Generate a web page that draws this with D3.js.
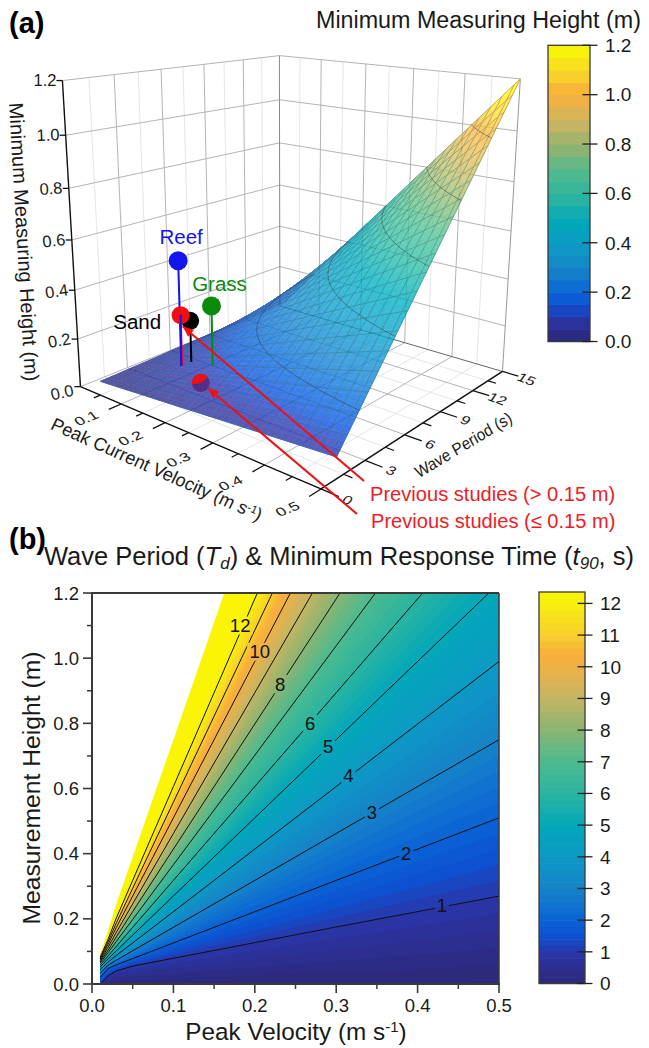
<!DOCTYPE html>
<html><head><meta charset="utf-8">
<script src="https://cdn.jsdelivr.net/npm/d3@7/dist/d3.min.js"></script>
<style>html,body{margin:0;background:#fff}svg{display:block}text{font-family:"Liberation Sans",Arial,sans-serif}</style>
</head><body><svg id="c" width="649" height="1048"></svg>
<script>
// ---- data, panel (a): minimum measuring height (m) by velocity (rows) and period (columns)
const velocities=[0.01,0.05,0.10,0.15,0.20,0.25,0.30,0.35,0.40,0.45,0.50];
const periods=[1,2,3,4,5,6,7,8,9,10,11,12,13,14,15];
const heightsU01=[.002,.003,.005,.006,.008,.010,.011,.013,.014,.016,.018,.019,.021,.022,.024];
const heightsU05=[.008,.016,.024,.032,.040,.048,.056,.064,.072,.080,.088,.096,.104,.112,.120];
const heightsU10=[.016,.032,.048,.064,.080,.096,.112,.128,.144,.160,.176,.192,.208,.224,.240];
const heightsU15=[.024,.048,.072,.096,.120,.144,.168,.192,.216,.240,.264,.288,.312,.336,.360];
const heightsU20=[.032,.064,.096,.128,.160,.192,.224,.256,.288,.320,.352,.384,.416,.448,.480];
const heightsU25=[.040,.080,.120,.160,.200,.240,.280,.320,.360,.400,.440,.480,.520,.560,.600];
const heightsU30=[.048,.096,.144,.192,.240,.288,.336,.384,.432,.480,.528,.576,.624,.672,.720];
const heightsU35=[.056,.112,.168,.224,.280,.336,.392,.448,.504,.560,.616,.672,.728,.784,.840];
const heightsU40=[.064,.128,.192,.256,.320,.384,.448,.512,.576,.640,.704,.768,.832,.896,.960];
const heightsU45=[.072,.144,.216,.288,.360,.432,.504,.576,.648,.720,.792,.864,.936,1.008,1.080];
const heightsU50=[.080,.160,.240,.320,.400,.480,.560,.640,.720,.800,.880,.960,1.040,1.120,1.200];
const surfaceRows=[heightsU01,heightsU05,heightsU10,heightsU15,heightsU20,heightsU25,heightsU30,heightsU35,heightsU40,heightsU45,heightsU50];
const meshVelocities=[.01,.03,.05,.07,.09,.11,.13,.15,.17,.19,.21,.23,.25,.27,.29,.31,.33,.35,.37,.39,.41,.43,.45,.47,.49,.5];
const meshPeriods=[1,1.7,2.4,3.1,3.8,4.5,5.2,5.9,6.6,7.3,8,8.7,9.4,10.1,10.8,11.5,12.2,12.9,13.6,14.3,15];
const surfaceContourLevels=[0.2,0.4,0.6,0.8,1.0];
const velocityTicks=[0.1,0.2,0.3,0.4,0.5], velocityMinor=[0.05,0.15,0.25,0.35,0.45];
const periodTicks=[0,3,6,9,12,15], periodMinor=[1.5,4.5,7.5,10.5,13.5];
const heightTicks=[0,0.2,0.4,0.6,0.8,1.0,1.2];
const colorbarATicks=[0,0.2,0.4,0.6,0.8,1.0,1.2];
// field sites and earlier studies: velocity, period, height
const markerNames=["Sand","Previous studies (> 0.15 m)","Grass","Reef"];
const markerVelocity=[.120,.112,.176,.110];
const markerPeriod=[4.05,3.65,3.85,3.65];
const markerHeight=[.252,.280,.350,.502];
const markerColors=["#000000","#f00f14","#0a8a0a","#1414f0"];
const lowStudyVelocity=.192, lowStudyPeriod=2.55, lowStudyHeight=.08;
// ---- data, panel (b): height (m) of each contour at the velocity stations
const stationVelocities=[0.01,0.02,0.03,0.05,0.10,0.20,0.30,0.40,0.50];
const contourT0 =[0,0,0,0,0,0,0,0,0.005];
const contourT1 =[0,.025,.040,.055,.079,.127,.175,.222,.270];
const contourT2 =[.020,.048,.059,.078,.126,.222,.318,.414,.510];
const contourT3 =[.033,.058,.073,.102,.174,.318,.462,.606,.750];
const contourT4 =[.044,.068,.088,.126,.222,.414,.606,.798,.990];
const contourT5 =[.052,.078,.102,.150,.270,.510,.750,.990,1.230];
const contourT6 =[.058,.087,.116,.174,.318,.606,.894,1.182,1.470];
const contourT7 =[.064,.097,.131,.198,.366,.702,1.038,1.374,1.710];
const contourT8 =[.068,.105,.145,.222,.414,.798,1.182,1.566,1.950];
const contourT9 =[.072,.114,.159,.246,.462,.894,1.326,1.758,2.190];
const contourT10=[.076,.123,.174,.270,.510,.990,1.470,1.950,2.430];
const contourT11=[.079,.131,.188,.294,.558,1.086,1.614,2.142,2.670];
const contourT12=[.082,.139,.203,.318,.606,1.182,1.758,2.334,2.910];
const contourT13=[.085,.147,.217,.342,.654,1.278,1.902,2.526,3.150];
const contourT14=[.088,.156,.232,.366,.702,1.374,2.046,2.718,3.390];
const contourT15=[.090,.164,.246,.390,.750,1.470,2.190,2.910,3.630];
const contourRows=[contourT0,contourT1,contourT2,contourT3,contourT4,contourT5,contourT6,contourT7,contourT8,contourT9,contourT10,contourT11,contourT12,contourT13,contourT14,contourT15];
const drawnContours=[1,2,3,4,5,6,7,8,9,10,11,12];
const labelLevels=[12,10,8,6,5,4,3,2,1];
const labelVelocity=[.182,.206,.231,.268,.290,.315,.344,.386,.430];
const labelHeight=[1.10,1.02,.92,.80,.73,.64,.525,.40,.24];
const xTicksB=[0,.1,.2,.3,.4,.5], xMinorB=[.05,.15,.25,.35,.45];
const yTicksB=[0,.2,.4,.6,.8,1.0,1.2], yMinorB=[.1,.3,.5,.7,.9,1.1];
const colorbarBTicks=[0,1,2,3,4,5,6,7,8,9,10,11,12];
// shared colour ramp
const rampStops=[0,.08,.12,.16,.24,.325,.405,.49,.57,.65,.73,.81,.84,.89,.975,1];
const rampColors=["#2d2877","#2b35a8","#0e50d0","#0a62d6","#1682c9","#0d9ac4","#03a7b9","#2db5a0","#4fb98f","#8cb472","#c4b563","#efb146","#f8ae3b","#f8ce2e","#f7f20c","#faf506"];

const svg=d3.select("#c");
const ramp=d3.scaleLinear().domain(rampStops).range(rampColors).clamp(true);
const ink="#1a1a1a", axisGray="#3a3a3a";

// ---- projective camera of the 3D box, fitted to the box corners
const ux=d3.scaleLinear([0,.5],[0,1]), uy=d3.scaleLinear([0,15],[0,1]), uz=d3.scaleLinear([0,1.2],[0,1]);
const boxCorners=[[0,0,0,80,387],[1,0,0,322,488],[1,1,0,502,373],[0,1,0,280,305],[0,0,1,62,81],[0,1,1,280,56],[1,1,1,520,78]];
function solveCam(){
  const A=[],B=[];
  boxCorners.forEach(([x,y,z,X,Y])=>{
    A.push([x,y,z,1,0,0,0,0,-X*x,-X*y,-X*z]);B.push(X);
    A.push([0,0,0,0,x,y,z,1,-Y*x,-Y*y,-Y*z]);B.push(Y);
  });
  const n=11,M=[];
  for(let i=0;i<n;i++){M[i]=[];for(let j=0;j<n;j++)M[i][j]=d3.sum(A,r=>r[i]*r[j]);M[i][n]=d3.sum(A,(r,k)=>r[i]*B[k]);}
  for(let c=0;c<n;c++){let p=c;for(let r=c+1;r<n;r++)if(Math.abs(M[r][c])>Math.abs(M[p][c]))p=r;[M[c],M[p]]=[M[p],M[c]];
    for(let r=0;r<n;r++)if(r!==c){const f=M[r][c]/M[c][c];for(let k=c;k<=n;k++)M[r][k]-=f*M[c][k];}}
  return M.map((r,i)=>r[n]/r[i]);
}
const cam=solveCam();
function project(u,T,z){const x=ux(u),y=uy(T),w=uz(z);
  const d=cam[8]*x+cam[9]*y+cam[10]*w+1;
  return [(cam[0]*x+cam[1]*y+cam[2]*w+cam[3])/d,(cam[4]*x+cam[5]*y+cam[6]*w+cam[7])/d];}
const seg=(g,a,b,c,w)=>g.append("line").attr("x1",a[0]).attr("y1",a[1]).attr("x2",b[0]).attr("y2",b[1]).attr("stroke",c).attr("stroke-width",w);

// ---- walls and floor
const box=svg.append("g");
const gMaj="#b4b4b4",gMin="#e6e6e6";
velocityMinor.forEach(u=>{seg(box,project(u,0,0),project(u,15,0),gMin,1);seg(box,project(u,15,0),project(u,15,1.2),gMin,1);});
periodMinor.forEach(T=>{seg(box,project(0,T,0),project(.5,T,0),gMin,1);seg(box,project(0,T,0),project(0,T,1.2),gMin,1);});
velocityTicks.slice(0,4).forEach(u=>{seg(box,project(u,0,0),project(u,15,0),gMaj,1);seg(box,project(u,15,0),project(u,15,1.2),gMaj,1);});
periodTicks.slice(1,5).forEach(T=>{seg(box,project(0,T,0),project(.5,T,0),gMaj,1);seg(box,project(0,T,0),project(0,T,1.2),gMaj,1);});
heightTicks.slice(1).forEach(z=>{seg(box,project(0,0,z),project(0,15,z),gMaj,1);seg(box,project(0,15,z),project(.5,15,z),gMaj,1);});
seg(box,project(0,0,0),project(0,15,0),gMaj,1);seg(box,project(0,15,0),project(.5,15,0),"#666",1);
seg(box,project(0,15,0),project(0,15,1.2),"#888",1);seg(box,project(.5,15,0),project(.5,15,1.2),"#999",1);

// axes of the box
const axes=svg.append("g");
seg(axes,project(0,0,0),project(0,0,1.2),"#111",1.4);
seg(axes,project(0,0,0),project(.5,0,0),"#111",1.5);
seg(axes,project(.5,0,0),project(.5,15,0),"#111",1.5);
velocityTicks.forEach(u=>seg(axes,project(u,0,0),project(u,-.75,0),"#111",1.3));
velocityMinor.forEach(u=>seg(axes,project(u,0,0),project(u,-.4,0),"#111",1.2));
periodTicks.forEach(T=>seg(axes,project(.5,T,0),project(.53,T,0),"#111",1.3));
periodMinor.forEach(T=>seg(axes,project(.5,T,0),project(.515,T,0),"#111",1.2));
heightTicks.forEach(z=>{const p=project(0,0,z);seg(axes,p,[p[0]-6,p[1]],"#111",1.3);
  axes.append("text").attr("text-anchor","end").attr("font-size",16.5).attr("fill",ink)
   .attr("transform",`translate(${p[0]-6},${p[1]+(z===0?9:5)}) rotate(${-12+z*10}) `).text(z.toFixed(1));});
velocityTicks.forEach(u=>{const p=project(u,-1.9,0);
  axes.append("text").attr("text-anchor","middle").attr("font-size",15).attr("fill",ink)
   .attr("transform",`matrix(1.05,-.42,.55,.7,${p[0]},${p[1]+4})`).text(u.toFixed(1));});
periodTicks.forEach(T=>{const p=project(.535,T,0);
  axes.append("text").attr("text-anchor","middle").attr("font-size",15).attr("fill",ink)
   .attr("transform",`matrix(1.0,.38,-.5,.72,${p[0]+3},${p[1]+6})`).text(T);});
axes.append("text").attr("text-anchor","middle").attr("font-size",20).attr("fill",ink)
   .attr("transform","rotate(86.7 23 242) translate(23 248)").text("Minimum Measuring Height (m)");
axes.append("text").attr("text-anchor","middle").attr("font-size",18).attr("fill",ink)
   .attr("transform","matrix(.914,.405,-.45,.92,154,475)").html('Peak Current Velocity (m s<tspan dy="-5" font-size="11">-1</tspan><tspan dy="5">)</tspan>');
axes.append("text").attr("text-anchor","middle").attr("font-size",15.5).attr("fill",ink)
   .attr("transform","matrix(.857,-.515,.5,.95,466,450)").text("Wave Period (s)");

// low study sits partly beneath the sheet
const lowP=project(lowStudyVelocity,lowStudyPeriod,lowStudyHeight);
svg.append("circle").attr("cx",lowP[0]).attr("cy",lowP[1]).attr("r",9).attr("fill","#f00f14");

// ---- surface
const bil=(u,T)=>{const iu=Math.min(d3.bisectRight(velocities,u)-1,velocities.length-2),it=Math.min(d3.bisectRight(periods,T)-1,periods.length-2);
  const a=(u-velocities[iu])/(velocities[iu+1]-velocities[iu]),b=(T-periods[it])/(periods[it+1]-periods[it]);
  const r=surfaceRows;
  return (1-a)*(1-b)*r[iu][it]+a*(1-b)*r[iu+1][it]+(1-a)*b*r[iu][it+1]+a*b*r[iu+1][it+1];};
const surf=svg.append("g").attr("opacity",.8);
const lineP=d3.line();
const N=4;
for(let i=0;i<velocities.length-1;i++)for(let j=0;j<periods.length-1;j++){
  for(let a=0;a<N;a++)for(let b=0;b<N;b++){
    const u0=velocities[i]+(velocities[i+1]-velocities[i])*a/N,u1=velocities[i]+(velocities[i+1]-velocities[i])*(a+1)/N;
    const T0=periods[j]+(periods[j+1]-periods[j])*b/N,T1=periods[j]+(periods[j+1]-periods[j])*(b+1)/N;
    const c=d3.rgb(ramp((bil((u0+u1)/2,(T0+T1)/2))/1.2)).brighter(.18).formatHex();
    surf.append("path").attr("d",lineP([[u0,T0],[u1,T0],[u1,T1],[u0,T1]].map(([u,T])=>project(u,T,bil(u,T))))+"Z")
      .attr("fill",c).attr("stroke",c).attr("stroke-width",.6);
  }
}
const meshColor=z=>d3.rgb(ramp(z/1.2*.78+.09)).darker(.6).formatHex();
const meshG=surf.append("g");
const fineT=d3.range(1,15.01,.5),fineU=d3.range(.01,.5001,.01);
meshVelocities.forEach(u=>d3.pairs(fineT).forEach(([a,b])=>seg(meshG,project(u,a,bil(u,a)),project(u,b,bil(u,b)),meshColor(bil(u,a)),1)));
meshPeriods.forEach(T=>d3.pairs(fineU).forEach(([a,b])=>seg(meshG,project(a,T,bil(a,T)),project(b,T,bil(b,T)),meshColor(bil(a,T)),1)));
surfaceContourLevels.forEach(l=>{
  const pts=[];
  d3.range(1,15.001,.1).forEach(T=>{
    const col=velocities.map(u=>bil(u,T));
    if(l>=col[0]&&l<=col[col.length-1]){const u=d3.scaleLinear().domain(col).range(velocities)(l);pts.push(project(u,T,l));}
  });
  svg.append("path").attr("d",lineP(pts)).attr("fill","none").attr("stroke","#333").attr("stroke-opacity",.6).attr("stroke-width",.8);
});
// upper part of the low study pokes through the sheet
svg.append("path").attr("transform",`translate(${lowP[0]},${lowP[1]})`)
  .attr("d",d3.arc()({innerRadius:0,outerRadius:9,startAngle:-101*Math.PI/180,endAngle:51*Math.PI/180})).attr("fill","#f00f14");

// ---- site markers with stems
const tops=markerNames.map((n,i)=>project(markerVelocity[i],markerPeriod[i],markerHeight[i]));
const bases=markerNames.map((n,i)=>project(markerVelocity[i],markerPeriod[i],bil(markerVelocity[i],markerPeriod[i])));
[0,2,3,1].forEach(i=>{
  seg(svg,tops[i],bases[i],markerColors[i],2);
  svg.append("circle").attr("cx",tops[i][0]).attr("cy",tops[i][1]).attr("r",i===2||i===3?9.5:9).attr("fill",markerColors[i]);
});
seg(svg,[tops[3][0]+2.5,tops[3][1]+54],bases[3],markerColors[3],1.8);
const siteLabel=(t,x,y,c,fs)=>svg.append("text").attr("x",x).attr("y",y).attr("fill",c).attr("font-size",fs).attr("text-anchor","middle").text(t);
siteLabel(markerNames[3],tops[3][0]+3,tops[3][1]-17,"#1414f0",20.5);
siteLabel(markerNames[2],tops[2][0]+8,tops[2][1]-15,"#0a8a0a",20.5);
siteLabel(markerNames[0],tops[0][0]-53,tops[0][1]+8,"#000",20.5);
// ---- arrows to the earlier studies
function arrow(tail,tip){
  seg(svg,tail,tip,"#f00f14",2);
  const a=Math.atan2(tail[1]-tip[1],tail[0]-tip[0]),L=11,W=4.5;
  const base=[tip[0]+L*Math.cos(a),tip[1]+L*Math.sin(a)];
  svg.append("path").attr("d",lineP([tip,[base[0]-W*Math.sin(a),base[1]+W*Math.cos(a)],[base[0]+W*Math.sin(a),base[1]-W*Math.cos(a)]])+"Z").attr("fill","#f00f14");
}
arrow([364,481],[tops[1][0]+2,tops[1][1]+11]);
arrow([357,514],[lowP[0]+7,lowP[1]+5]);
svg.append("text").attr("x",370).attr("y",501).attr("fill","#ee1c25").attr("font-size",20.1).text("Previous studies (> 0.15 m)");
svg.append("text").attr("x",371).attr("y",528).attr("fill","#ee1c25").attr("font-size",20.1).text("Previous studies (\u2264 0.15 m)");

// ---- titles
svg.append("text").attr("x",9).attr("y",33).attr("font-size",29).attr("font-weight","bold").attr("fill","#000").text("(a)");
svg.append("text").attr("x",9).attr("y",549).attr("font-size",29).attr("font-weight","bold").attr("fill","#000").text("(b)");
svg.append("text").attr("x",316).attr("y",28).attr("font-size",23.3).attr("fill",ink).text("Minimum Measuring Height (m)");
svg.append("text").attr("x",44).attr("y",565).attr("font-size",25.5).attr("fill",ink)
 .html('Wave Period (<tspan font-style="italic">T</tspan><tspan font-style="italic" font-size="17" dy="4">d</tspan><tspan dy="-4">) &amp; Minimum Response Time (</tspan><tspan font-style="italic">t</tspan><tspan font-style="italic" font-size="17" dy="4">90</tspan><tspan dy="-4">, s)</tspan>');

// ---- colour bars
function colorbar(x0,x1,yTop,yBot,domainMax,ticks,fmt,step){
  const y=d3.scaleLinear([0,domainMax],[yBot,yTop]);
  const g=svg.append("g");
  d3.range(0,domainMax,step).forEach(v=>{
    const hi=Math.min(v+step,domainMax);
    g.append("rect").attr("x",x0).attr("width",x1-x0).attr("y",y(hi)).attr("height",y(v)-y(hi)+.6).attr("fill",ramp((v+step/2)/domainMax));
  });
  g.append("rect").attr("x",x0).attr("y",yTop).attr("width",x1-x0).attr("height",yBot-yTop).attr("fill","none").attr("stroke",axisGray).attr("stroke-width",1.3);
  ticks.forEach(t=>{
    seg(g,[x1-7.5,y(t)],[x1+7.5,y(t)],"#222",1.3);
    g.append("text").attr("x",x1+15).attr("y",y(t)+6.8).attr("font-size",19).attr("fill",ink).text(fmt(t));
  });
}
colorbar(548,590,45.3,341.5,1.2,colorbarATicks,d=>d.toFixed(1),.05);
colorbar(539,585,592,983.5,12.36,colorbarBTicks,d=>d,.2);

// ---- panel (b)
const xB=d3.scaleLinear([0,.5],[92,499]), yB=d3.scaleLinear([0,1.2],[984,593]);
const defs=svg.append("defs");
defs.append("clipPath").attr("id","plotB").append("rect").attr("x",92).attr("y",593).attr("width",407).attr("height",389.4);
const maskB=defs.append("mask").attr("id","labelGaps").attr("maskUnits","userSpaceOnUse").attr("x",0).attr("y",560).attr("width",649).attr("height",488);
maskB.append("rect").attr("x",0).attr("y",560).attr("width",649).attr("height",488).attr("fill","#fff");
labelLevels.forEach((l,i)=>{const w=String(l).length*11+3;
  maskB.append("rect").attr("x",xB(labelVelocity[i])-w/2).attr("y",yB(labelHeight[i])-9).attr("width",w).attr("height",18).attr("fill","#000");});
const pb=svg.append("g").attr("clip-path","url(#plotB)");
const curveAt=T=>{const k=Math.min(Math.floor(T),14),f=T-k;return stationVelocities.map((u,i)=>[xB(u),yB(contourRows[k][i]*(1-f)+contourRows[k+1][i]*f)]);};
for(let k=75;k>=0;k--){
  const T=k*.2, c=curveAt(T);
  const poly=[...c,[xB(.5),yB(-.01)],[xB(.01),yB(-.01)]];
  pb.append("path").attr("d",lineP(poly)+"Z").attr("fill",ramp((T+.1-.2)/12.36)).attr("stroke","none");
}
const contourG=pb.append("g").attr("mask","url(#labelGaps)");
drawnContours.forEach(T=>contourG.append("path").attr("d",d3.line()(stationVelocities.map((u,i)=>[xB(u),yB(contourRows[T][i])]))).attr("fill","none").attr("stroke","#111").attr("stroke-width",1));
labelLevels.forEach((l,i)=>svg.append("text").attr("x",xB(labelVelocity[i])).attr("y",yB(labelHeight[i])+6.5).attr("text-anchor","middle").attr("font-size",18.5).attr("fill","#111").text(l));
const frame=svg.append("g");
seg(frame,[92,593],[499,593],axisGray,2);seg(frame,[499,593],[499,985],axisGray,1.5);
seg(frame,[92,592],[92,985],axisGray,2);seg(frame,[91,984],[500,984],axisGray,2);
xTicksB.forEach(v=>{seg(frame,[xB(v),984],[xB(v),993],axisGray,1.6);
  frame.append("text").attr("x",xB(v)).attr("y",1012).attr("text-anchor","middle").attr("font-size",18.5).attr("fill",ink).text(v.toFixed(1));});
xMinorB.forEach(v=>seg(frame,[xB(v),984],[xB(v),989],axisGray,1.5));
yTicksB.forEach(v=>{seg(frame,[83,yB(v)],[92,yB(v)],axisGray,1.6);
  frame.append("text").attr("x",79).attr("y",yB(v)+6.6).attr("text-anchor","end").attr("font-size",18.5).attr("fill",ink).text(v.toFixed(1));});
yMinorB.forEach(v=>seg(frame,[87,yB(v)],[92,yB(v)],axisGray,1.5));
svg.append("text").attr("transform","translate(40,788) rotate(-90)").attr("text-anchor","middle").attr("font-size",24.7).attr("fill",ink).text("Measurement Height (m)");
svg.append("text").attr("x",296).attr("y",1040).attr("text-anchor","middle").attr("font-size",24.3).attr("fill",ink)
 .html('Peak Velocity (m s<tspan dy="-8" font-size="15">-1</tspan><tspan dy="8">)</tspan>');
</script></body></html>
